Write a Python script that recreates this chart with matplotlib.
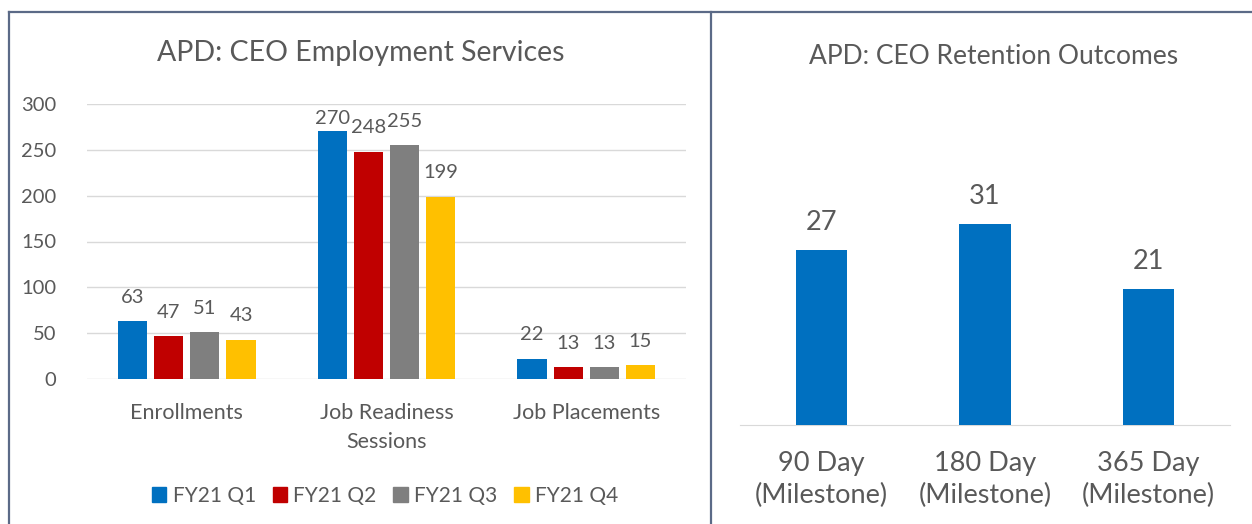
import numpy as np
import matplotlib.pyplot as plt
from matplotlib.lines import Line2D

plt.rcParams['font.family'] = ['Lato', 'DejaVu Sans']

# Data
categories = ['Enrollments', 'Job Readiness\nSessions', 'Job Placements']
quarters = ['FY21 Q1', 'FY21 Q2', 'FY21 Q3', 'FY21 Q4']
q1 = [63, 270, 22]
q2 = [47, 248, 13]
q3 = [51, 255, 13]
q4 = [43, 199, 15]
series = [q1, q2, q3, q4]
colors = ['#0070C0', '#C00000', '#7F7F7F', '#FFC000']

milestones = ['90 Day\n(Milestone)', '180 Day\n(Milestone)', '365 Day\n(Milestone)']
retention = [27, 31, 21]

text_col = '#595959'
grid_col = '#D9D9D9'
border_col = '#5B6A87'

W, H = 1252, 524
fig = plt.figure(figsize=(W / 100, H / 100), dpi=100)

def px_axes(x0, x1, ytop, ybot):
    return fig.add_axes([x0 / W, (H - ybot) / H, (x1 - x0) / W, (ybot - ytop) / H])

# Left chart
ax = px_axes(87, 686, 104, 379)
x = np.arange(len(categories))
bw = 0.146
step = 0.181
for i, (vals, c) in enumerate(zip(series, colors)):
    pos = x + (i - 1.5) * step
    ax.bar(pos, vals, width=bw, color=c, zorder=3, label=quarters[i])
    for p, v in zip(pos, vals):
        ax.text(p, min(v + 26, 284), str(v), ha='center', va='center',
                fontsize=14.5, color=text_col)
ax.set_xlim(-0.5, 2.5)
ax.set_ylim(0, 300)
ax.set_yticks(range(0, 301, 50))
ax.set_xticks(x)
ax.set_xticklabels(categories, linespacing=1.6)
ax.grid(axis='y', color=grid_col, linewidth=1, zorder=0)
for s in ax.spines.values():
    s.set_visible(False)
ax.tick_params(axis='both', length=0, colors=text_col)
ax.tick_params(axis='x', labelsize=15.5, pad=17)
ax.tick_params(axis='y', labelsize=14.5, pad=22)
fig.text(361 / W, (H - 53) / H, 'APD: CEO Employment Services', ha='center', va='center',
         fontsize=20.5, color=text_col)

handles = [plt.Rectangle((0, 0), 1, 1, color=c) for c in colors]
fig.legend(handles, quarters, loc='center', bbox_to_anchor=(385 / W, (H - 496) / H),
           ncol=4, frameon=False, fontsize=15, labelcolor=text_col,
           handlelength=0.7, handleheight=0.7, handletextpad=0.3, columnspacing=0.8)

# Right chart
ax2 = px_axes(740, 1230, 101, 425)
x2 = np.arange(len(milestones))
ax2.bar(x2, retention, width=0.315, color=colors[0], zorder=3)
for p, v in zip(x2, retention):
    ax2.text(p, v + 4.3, str(v), ha='center', va='center', fontsize=19.5, color=text_col)
ax2.set_xlim(-0.5, 2.5)
ax2.set_ylim(0, 50)
ax2.set_yticks([])
ax2.set_xticks(x2)
ax2.set_xticklabels(milestones, linespacing=1.35)
for s in ['top', 'left', 'right']:
    ax2.spines[s].set_visible(False)
ax2.spines['bottom'].set_color(grid_col)
ax2.tick_params(axis='x', length=0, labelsize=19.5, colors=text_col, pad=19)
fig.text(994 / W, (H - 57) / H, 'APD: CEO Retention Outcomes', ha='center', va='center',
         fontsize=19, color=text_col)

# Panel borders
lw = 1.6
fig.add_artist(Line2D([9 / W, 9 / W], [0, (H - 12) / H], color=border_col, lw=lw))
fig.add_artist(Line2D([9 / W, 1], [(H - 12) / H, (H - 12) / H], color=border_col, lw=lw))
fig.add_artist(Line2D([711 / W, 711 / W], [0, (H - 12) / H], color=border_col, lw=lw))

fig.savefig('out.png', dpi=100)
